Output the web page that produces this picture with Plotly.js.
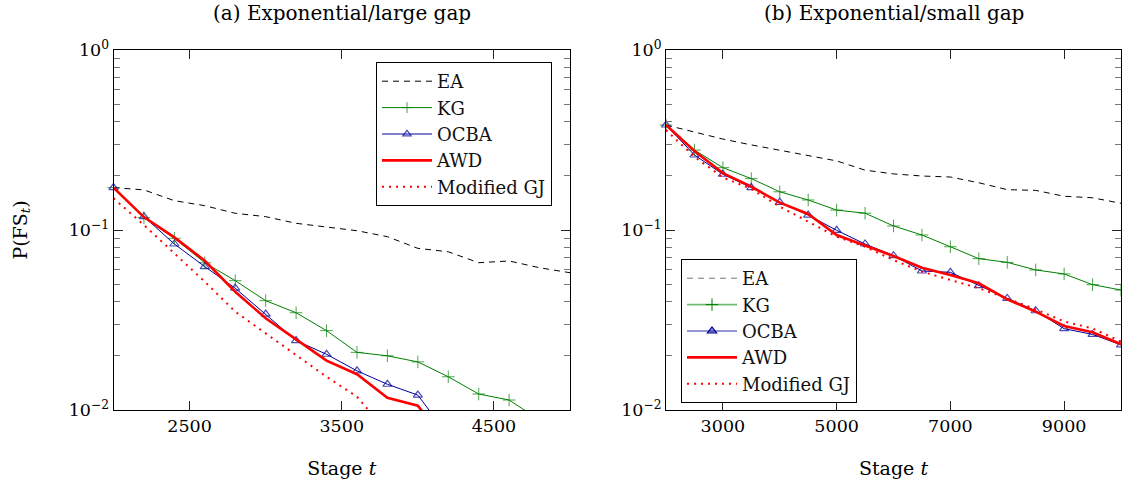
<!DOCTYPE html>
<html>
<head>
<meta charset="utf-8">
<script src="https://cdn.plot.ly/plotly-3.0.1.min.js"></script>
<style>html,body{margin:0;padding:0;background:#fff}#chart{width:1122px;height:482px}</style>
</head>
<body>
<div id="chart"></div>
<script>
// ---------- data ----------
const seriesNames = ['EA', 'KG', 'OCBA', 'AWD', 'Modified GJ'];
const panelTitles = ['(a) Exponential/large gap', '(b) Exponential/small gap'];

// Panel (a): stages 2000..5000 step 200
const stagesA = [2000,2200,2400,2600,2800,3000,3200,3400,3600,3800,4000,4200,4400,4600,4800,5000];
const eaA   = [0.172,0.167,0.1455,0.1365,0.1238,0.1186,0.1089,0.1035,0.0991,0.0918,0.0791,0.0757,0.0658,0.0673,0.0617,0.0579];
const kgA   = [0.172,0.117,0.0899,0.0658,0.0523,0.0405,0.0347,0.0276,0.0209,0.0200,0.0185,0.0153,0.01227,0.01136,0.0088,0.0070];
const ocbaA = [0.172,0.1186,0.0836,0.0626,0.0475,0.0341,0.0243,0.0204,0.0165,0.0139,0.0121,0.0072];
const awdA  = [0.172,0.118,0.091,0.0675,0.0454,0.0323,0.0247,0.0188,0.0158,0.0117,0.01057,0.0064];
const gjA   = [0.150,0.1066,0.0742,0.0516,0.0352,0.0267,0.0202,0.0153,0.01186,0.0075];

// Panel (b): stages 2000..10000 step 500
const stagesB = [2000,2500,3000,3500,4000,4500,5000,5500,6000,6500,7000,7500,8000,8500,9000,9500,10000];
const eaB   = [0.383,0.349,0.320,0.297,0.278,0.259,0.242,0.215,0.205,0.1995,0.197,0.183,0.1675,0.166,0.154,0.151,0.1407];
const kgB   = [0.383,0.278,0.222,0.193,0.163,0.1468,0.129,0.124,0.1053,0.0938,0.0807,0.0693,0.0661,0.0600,0.0570,0.0497,0.0464];
const ocbaB = [0.383,0.261,0.204,0.172,0.1425,0.121,0.0996,0.0836,0.0720,0.0592,0.0582,0.0491,0.0417,0.0356,0.0283,0.0263,0.0230];
const awdB  = [0.383,0.275,0.207,0.174,0.142,0.1227,0.0938,0.0818,0.0717,0.0617,0.0562,0.0506,0.0412,0.0352,0.0293,0.0270,0.0232];
const gjB   = [0.359,0.255,0.196,0.169,0.1348,0.111,0.0918,0.0807,0.0681,0.0587,0.0528,0.0475,0.0417,0.0363,0.0310,0.0284,0.0240];

const yTickVals = [1, 0.1, 0.01];
const yTickText = ['10<sup>0</sup>', '10<sup>\u22121</sup>', '10<sup>\u22122</sup>'];
const xTickValsA = [2500, 3500, 4500];
const xTickValsB = [3000, 5000, 7000, 9000];
const yMinorVals = [0.02,0.03,0.04,0.05,0.06,0.07,0.08,0.09,0.2,0.3,0.4,0.5,0.6,0.7,0.8,0.9];

// ---------- styles ----------
const FONT = 'DejaVu Serif';
const TICK_FS = 17.5, TITLE_FS = 20, LABEL_FS = 19, LEGEND_FS = 18;
const YMIN = 0.01;
const styles = {
  'EA':          {line: {color: 'black', width: 1, dash: '6px,5px'}, mode: 'lines'},
  'KG':          {line: {color: '#008000', width: 1}, mode: 'lines+markers', marker: {symbol: 'cross-thin', size: 9, line: {color: '#008000', width: 1}}},
  'OCBA':        {line: {color: '#000099', width: 1}, mode: 'lines+markers', marker: {symbol: 'triangle-up-open', size: 8, color: '#000099', line: {color: '#000099', width: 1.2}}},
  'AWD':         {line: {color: '#ff0000', width: 2.6}, mode: 'lines'},
  'Modified GJ': {line: {color: '#ff0000', width: 2, dash: '2px,5px'}, mode: 'lines'}
};

function makeTrace(name, xs, ys, xa, ya, legendId, showLegend) {
  const st = styles[name];
  const t = {
    type: 'scatter', name: name,
    x: xs.slice(0, ys.length), y: ys,
    xaxis: xa, yaxis: ya, mode: st.mode,
    line: st.line, cliponaxis: false,
    legend: legendId, legendgroup: legendId + name, showlegend: showLegend,
    hoverinfo: 'skip'
  };
  if (st.marker) {
    t.marker = JSON.parse(JSON.stringify(st.marker));
    t.marker.size = ys.map(v => v >= YMIN ? st.marker.size : 0);
  }
  return t;
}

const dataA = [eaA, kgA, ocbaA, awdA, gjA];
const dataB = [eaB, kgB, ocbaB, awdB, gjB];
const traces = [];
seriesNames.forEach((n, i) => traces.push(makeTrace(n, stagesA, dataA[i], 'x', 'y', 'legend', true)));
seriesNames.forEach((n, i) => traces.push(makeTrace(n, stagesB, dataB[i], 'x2', 'y2', 'legend2', false)));

// faded legend entries for panel (b), as in the original
const fadedLegend = {
  'EA':          {line: {color: 'rgba(0,0,0,0.55)', width: 1, dash: '6px,5px'}, mode: 'lines'},
  'KG':          {line: {color: 'rgba(0,128,0,0.55)', width: 1.6}, mode: 'lines+markers', marker: {symbol: 'cross-thin', size: 9, line: {color: '#008000', width: 1}}},
  'OCBA':        {line: {color: 'rgba(0,0,153,0.55)', width: 1.6}, mode: 'lines+markers', marker: {symbol: 'triangle-up', size: 8, color: 'rgba(0,0,153,0.4)', line: {color: '#000099', width: 1.2}}},
  'AWD':         {line: {color: '#ff0000', width: 2.6}, mode: 'lines'},
  'Modified GJ': {line: {color: '#ff0000', width: 2, dash: '2px,5px'}, mode: 'lines'}
};
seriesNames.forEach(n => {
  const f = fadedLegend[n];
  const t = {type: 'scatter', name: n, x: [null], y: [null], xaxis: 'x2', yaxis: 'y2',
    mode: f.mode, line: f.line, legend: 'legend2', legendgroup: 'legend2' + n, showlegend: true, hoverinfo: 'skip'};
  if (f.marker) t.marker = f.marker;
  traces.push(t);
});

// ---------- layout ----------
const W = 1122, H = 482;
const yDom = [1 - 410 / H, 1 - 50 / H];
const axisCommon = {
  showline: true, linecolor: 'black', linewidth: 1, mirror: 'ticks',
  ticks: 'inside', ticklen: 9, tickcolor: '#222', tickwidth: 1,
  showgrid: false, zeroline: false, fixedrange: true,
  tickfont: {family: FONT, size: TICK_FS, color: 'black'}
};
function yAxis(extra) {
  return Object.assign({}, axisCommon, {
    type: 'log', range: [-2, 0], tickmode: 'array', tickvals: yTickVals, ticktext: yTickText,
    domain: yDom,
    minor: {tickmode: 'array', tickvals: yMinorVals, ticks: 'inside', ticklen: 6, tickcolor: '#777', tickwidth: 1}
  }, extra);
}
function xAxis(extra) {
  return Object.assign({}, axisCommon, {
    type: 'linear', tickmode: 'array',
    title: {text: 'Stage <i>t</i>', font: {family: FONT, size: LABEL_FS, color: 'black'}, standoff: 26}
  }, extra);
}
const legendCommon = {
  xanchor: 'left', yanchor: 'top', xref: 'paper', yref: 'paper',
  bgcolor: 'white', bordercolor: 'black', borderwidth: 1,
  font: {family: FONT, size: LEGEND_FS, color: '#111'},
  tracegroupgap: 3.5, itemwidth: 50, traceorder: 'normal'
};

const layout = {
  width: W, height: H,
  margin: {l: 0, r: 0, t: 0, b: 0},
  paper_bgcolor: 'white', plot_bgcolor: 'white',
  showlegend: true,
  xaxis: xAxis({domain: [113.5 / W, 570 / W], range: [2000, 5000], tickvals: xTickValsA, anchor: 'y'}),
  yaxis: yAxis({anchor: 'x', title: {text: 'P(FS<sub><i>t</i></sub>)', font: {family: FONT, size: LABEL_FS, color: 'black'}, standoff: 36}}),
  xaxis2: xAxis({domain: [666 / W, 1121 / W], range: [2000, 10000], tickvals: xTickValsB, anchor: 'y2'}),
  yaxis2: yAxis({anchor: 'x2'}),
  legend: Object.assign({}, legendCommon, {x: 376 / W, y: 1 - 62 / H}),
  legend2: Object.assign({}, legendCommon, {x: 681 / W, y: 1 - 259 / H}),
  annotations: [
    {text: panelTitles[0], xref: 'paper', yref: 'paper', x: (113.5 + 570) / 2 / W, y: 1 - 13 / H,
     xanchor: 'center', yanchor: 'middle', showarrow: false, font: {family: FONT, size: TITLE_FS, color: 'black'}},
    {text: panelTitles[1], xref: 'paper', yref: 'paper', x: (666 + 1121) / 2 / W, y: 1 - 13 / H,
     xanchor: 'center', yanchor: 'middle', showarrow: false, font: {family: FONT, size: TITLE_FS, color: 'black'}}
  ]
};

Plotly.newPlot('chart', traces, layout, {staticPlot: true, displayModeBar: false});
</script>
</body>
</html>
